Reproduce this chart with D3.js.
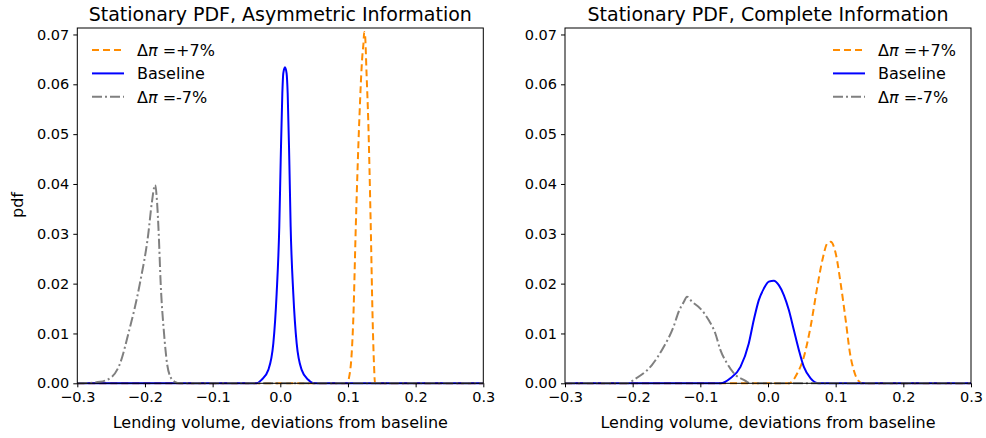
<!DOCTYPE html>
<html><head><meta charset="utf-8">
<script src="https://cdn.jsdelivr.net/npm/d3@7"></script>
<style>
body{margin:0;background:#fff;}
svg{font-family:"DejaVu Sans",sans-serif;}
</style></head>
<body><svg id="c" width="986" height="438"></svg>
<script>
// ---- data ----
const xTicks = [-0.3, -0.2, -0.1, 0.0, 0.1, 0.2, 0.3];
const yTicks = [0.00, 0.01, 0.02, 0.03, 0.04, 0.05, 0.06, 0.07];
const titles = ["Stationary PDF, Asymmetric Information", "Stationary PDF, Complete Information"];
const seriesPrefix = ["\u0394", "", "\u0394"];
const seriesItalic = ["\u03c0", "", "\u03c0"];
const seriesSuffix = [" =+7%", "Baseline", " =-7%"];

const asymPlusX = [-0.3, 0.1, 0.1004, 0.1055, 0.1078, 0.1118, 0.1167, 0.1214, 0.1228, 0.1240, 0.1252, 0.1275, 0.130, 0.1335, 0.1365, 0.1384, 0.140, 0.3];
const asymPlusY = [0, 0, 0.0003, 0.006, 0.0126, 0.0326, 0.0526, 0.066, 0.068, 0.0705, 0.070, 0.062, 0.0526, 0.0326, 0.0126, 0.004, 0.0, 0];
const asymBaseX = [-0.3, -0.035, -0.0276, -0.0177, -0.0103, -0.0054, -0.0015, 0.0006, 0.003, 0.0044, 0.0069, 0.0093, 0.0109, 0.0133, 0.0153, 0.0192, 0.0242, 0.0316, 0.0414, 0.05, 0.3];
const asymBaseY = [0, 0, 0.0007, 0.0027, 0.008, 0.018, 0.0314, 0.0448, 0.0582, 0.0622, 0.0634, 0.0622, 0.0582, 0.0448, 0.0314, 0.018, 0.008, 0.0027, 0.0007, 0, 0];
const asymMinusX = [-0.3, -0.296, -0.2665, -0.249, -0.2368, -0.2245, -0.2074, -0.195, -0.190, -0.185, -0.182, -0.1797, -0.1768, -0.1718, -0.1674, -0.1624, -0.156, -0.148, 0.3];
const asymMinusY = [0, 0, 0.0003, 0.0013, 0.004, 0.010, 0.0201, 0.0301, 0.0361, 0.0398, 0.0361, 0.0301, 0.0201, 0.010, 0.004, 0.0013, 0.0003, 0, 0];

const compPlusX = [-0.3, 0.031, 0.0433, 0.053, 0.063, 0.0729, 0.0803, 0.0877, 0.0926, 0.1, 0.1074, 0.1148, 0.1212, 0.127, 0.133, 0.14, 0.3];
const compPlusY = [0, 0, 0.002, 0.0053, 0.0114, 0.0194, 0.0247, 0.0281, 0.0284, 0.0261, 0.02, 0.0127, 0.006, 0.0025, 0.0006, 0, 0];
const compBaseX = [-0.3, -0.07, -0.0556, -0.0407, -0.0284, -0.021, -0.0136, -0.0062, 0.0012, 0.0086, 0.016, 0.0234, 0.0308, 0.0382, 0.0456, 0.053, 0.063, 0.075, 0.3];
const compBaseY = [0, 0, 0.001, 0.0033, 0.008, 0.0127, 0.0167, 0.019, 0.0204, 0.0206, 0.0197, 0.0177, 0.0147, 0.0107, 0.0067, 0.0033, 0.001, 0, 0];
const compMinusX = [-0.3, -0.207, -0.1988, -0.1716, -0.154, -0.1396, -0.132, -0.1245, -0.1197, -0.1123, -0.1, -0.0877, -0.0778, -0.0704, -0.0605, -0.048, -0.0358, -0.026, 0.3];
const compMinusY = [0, 0, 0.00066, 0.00367, 0.00734, 0.01135, 0.01436, 0.0163, 0.01737, 0.01637, 0.015, 0.0127, 0.01, 0.0067, 0.004, 0.00166, 0.0007, 0, 0];

// ---- styles ----
const colors = ["#ff8c00", "#0000ff", "#808080"];
const dashes = ["7,4", null, "10,3,2,3"];

const panels = [
  {left: 77.3, right: 483.3, title: titles[0], ylabel: true, legendX: 92,
   series: [[asymPlusX, asymPlusY], [asymBaseX, asymBaseY], [asymMinusX, asymMinusY]]},
  {left: 565, right: 971, title: titles[1], ylabel: false, legendX: 833,
   series: [[compPlusX, compPlusY], [compBaseX, compBaseY], [compMinusX, compMinusY]]}
];
const plotTop = 28, plotBottom = 383.3;

const svg = d3.select("#c");
const fmtX = d => d3.format(".1f")(d).replace("-", "\u2212");
const fmtY = d3.format(".2f");

panels.forEach((p, pi) => {
  const x = d3.scaleLinear().domain([-0.3, 0.3]).range([p.left, p.right]);
  const y = d3.scaleLinear().domain([0, 0.0713]).range([plotBottom, plotTop]);
  const g = svg.append("g");

  const clipId = "clip" + pi;
  svg.append("clipPath").attr("id", clipId).append("rect")
    .attr("x", p.left).attr("y", plotTop - 2).attr("width", p.right - p.left).attr("height", plotBottom - plotTop + 4);

  const line = d3.line().x(d => x(d[0])).y(d => y(d[1])).curve(d3.curveMonotoneX);
  p.series.forEach((s, i) => {
    const pts = s[0].map((v, k) => [v, s[1][k]]);
    g.append("path").attr("d", line(pts))
      .attr("fill", "none").attr("stroke", colors[i]).attr("stroke-width", 2)
      .attr("stroke-dasharray", dashes[i]).attr("clip-path", `url(#${clipId})`);
  });

  // axes
  const xa = g.append("g").attr("transform", `translate(0,${plotBottom})`)
    .call(d3.axisBottom(x).tickValues(xTicks).tickFormat(fmtX).tickSizeOuter(0).tickSize(4).tickPadding(4));
  const ya = g.append("g").attr("transform", `translate(${p.left},0)`)
    .call(d3.axisLeft(y).tickValues(yTicks).tickFormat(fmtY).tickSizeOuter(0).tickSize(4).tickPadding(4));
  [xa, ya].forEach(a => {
    a.select(".domain").remove();
    a.selectAll("text").attr("font-size", 14.5).attr("fill", "#000").attr("font-family", "DejaVu Sans");
    a.selectAll("line").attr("stroke", "#000").attr("stroke-width", 1);
  });

  // frame
  g.append("rect").attr("x", p.left).attr("y", plotTop).attr("width", p.right - p.left).attr("height", plotBottom - plotTop)
    .attr("fill", "none").attr("stroke", "#000").attr("stroke-width", 1);

  // title
  g.append("text").attr("x", (p.left + p.right) / 2).attr("y", 21).attr("text-anchor", "middle")
    .attr("font-size", 19).text(p.title);
  // x label
  g.append("text").attr("x", (p.left + p.right) / 2).attr("y", 428).attr("text-anchor", "middle")
    .attr("font-size", 16).text("Lending volume, deviations from baseline");
  if (p.ylabel) {
    g.append("text").attr("transform", "translate(23,205) rotate(-90)").attr("text-anchor", "middle")
      .attr("font-size", 16).text("pdf");
  }

  // legend
  seriesSuffix.forEach((n, i) => {
    const ly = 50 + i * 23.4;
    g.append("line").attr("x1", p.legendX).attr("x2", p.legendX + 32).attr("y1", ly).attr("y2", ly)
      .attr("stroke", colors[i]).attr("stroke-width", 2).attr("stroke-dasharray", dashes[i]);
    const t = g.append("text").attr("x", p.legendX + 45).attr("y", ly + 6).attr("font-size", 16);
    if (seriesPrefix[i]) t.append("tspan").text(seriesPrefix[i]);
    if (seriesItalic[i]) t.append("tspan").attr("font-style", "italic").text(seriesItalic[i]);
    t.append("tspan").text(n);
  });
});
</script></body></html>
